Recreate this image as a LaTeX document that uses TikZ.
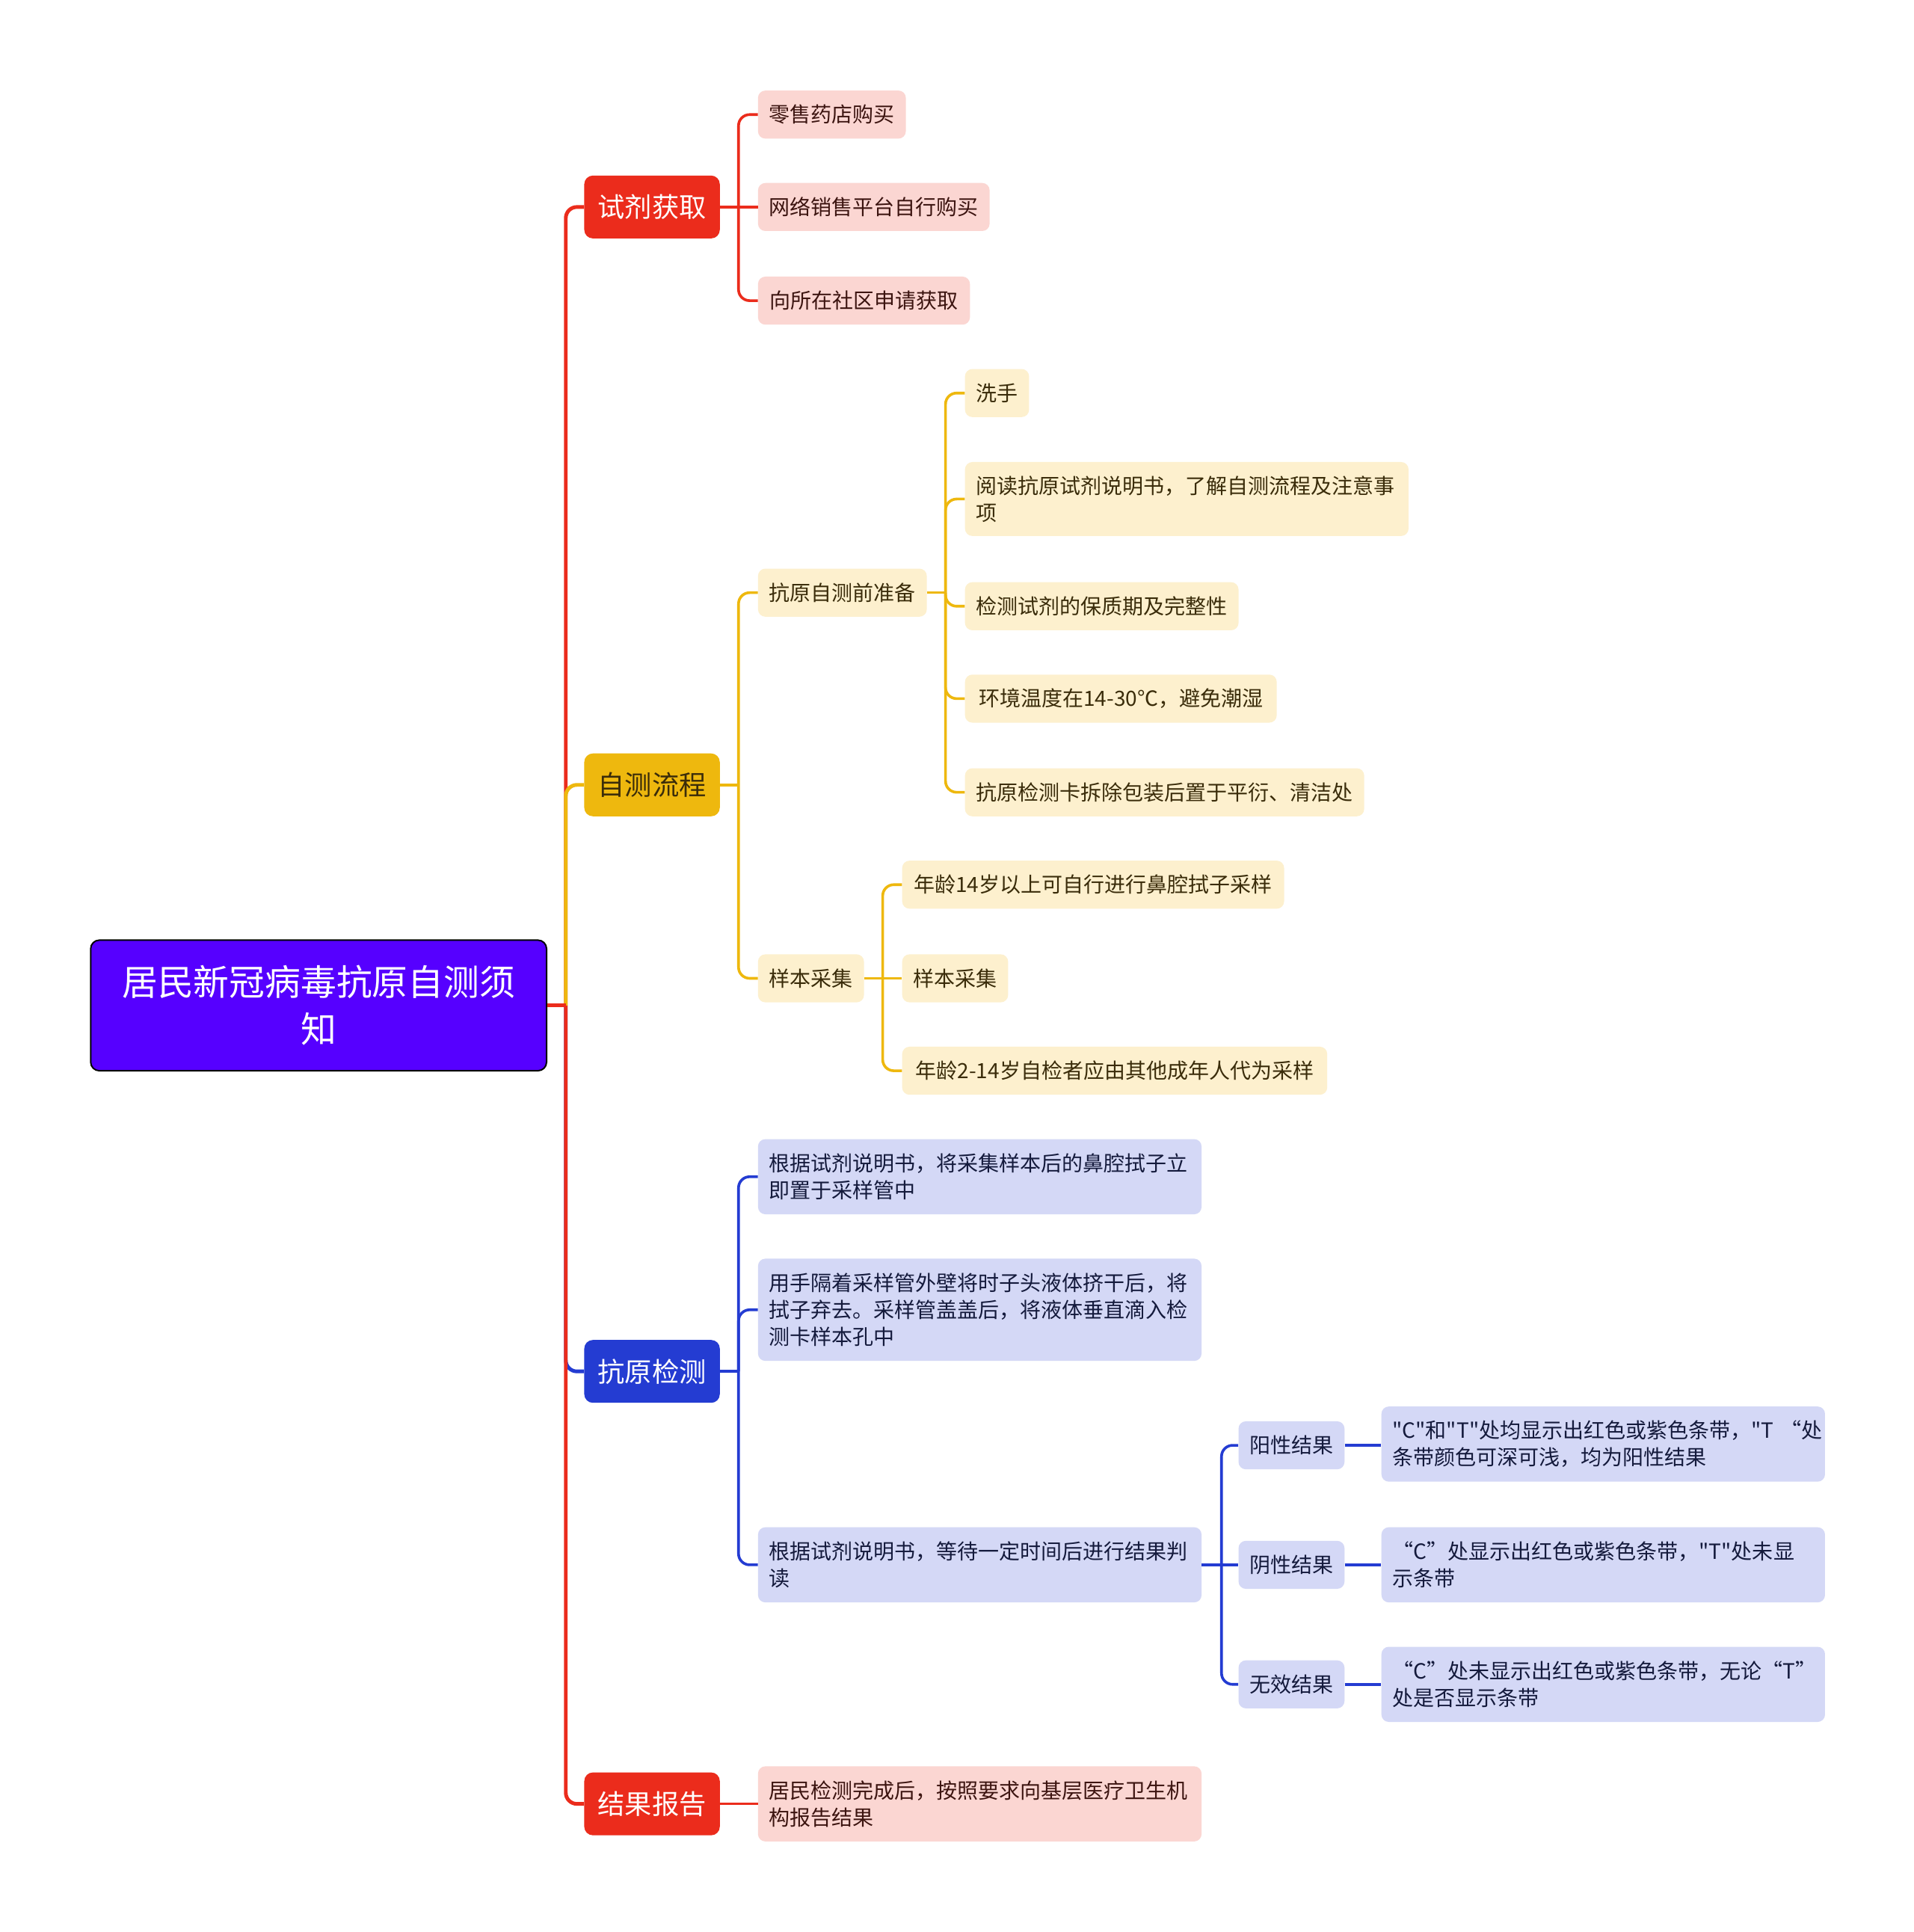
\documentclass[tikz,border=0pt]{standalone}
\usepackage{fontspec}
\newfontfamily\cjk{Noto Sans CJK SC}
\usetikzlibrary{calc}
\definecolor{cred}{RGB}{235,44,28}
\definecolor{cyel}{RGB}{238,184,14}
\definecolor{cblu}{RGB}{36,60,210}
\definecolor{croot}{RGB}{86,0,255}
\definecolor{lred}{RGB}{251,214,210}
\definecolor{lyel}{RGB}{253,240,206}
\definecolor{lblu}{RGB}{212,216,246}
\definecolor{tred}{RGB}{60,20,16}
\definecolor{tyel}{RGB}{58,44,10}
\definecolor{tblu}{RGB}{20,26,60}
\tikzset{
  box/.style={rounded corners=6pt, anchor=west, inner xsep=9pt, inner ysep=0pt, minimum height=39pt, font=\cjk\fontsize{17}{22}\selectfont},
  rootbox/.style={rounded corners=7pt, anchor=west, fill=croot, draw=black, line width=1.2pt, text=white, align=center, inner sep=0pt, font=\cjk\fontsize{29}{38}\selectfont, minimum width=370pt, minimum height=106pt},
  topic/.style={rounded corners=7pt, anchor=west, minimum width=110pt, minimum height=51pt, inner sep=0pt, font=\cjk\fontsize{22}{26}\selectfont},
  pk/.style={box, fill=lred, text=tred},
  yl/.style={box, fill=lyel, text=tyel},
  bl/.style={box, fill=lblu, text=tblu},
  multi/.style={text width=#1, align=left},
  eRedA/.style={draw=cred, line width=3pt},
  eYelA/.style={draw=cyel, line width=3pt},
  eBluA/.style={draw=cblu, line width=3pt},
  eRedB/.style={draw=cred, line width=2.2pt},
  eYelB/.style={draw=cyel, line width=2.2pt},
  eBluB/.style={draw=cblu, line width=2.2pt},
  rc/.style={rounded corners=9pt}
}
\begin{document}
\begin{tikzpicture}[x=1pt,y=-1pt]
\useasboundingbox[fill=white] (0,0) rectangle (1553,1568);

% root
\node[rootbox] (root) at (73,816) {居民新冠病毒抗原自测须\\知};

% level 1
\node[topic, fill=cred, text=white] (n1) at (474,168) {试剂获取};
\node[topic, fill=cyel, text=tyel] (n2) at (474,637) {自测流程};
\node[topic, fill=cblu, text=white] (n3) at (474,1113) {抗原检测};
\node[topic, fill=cred, text=white] (n4) at (474,1464) {结果报告};

% red children
\node[pk, minimum width=120pt] (a1) at (615,93) {零售药店购买};
\node[pk, minimum width=188pt] (a2) at (615,168) {网络销售平台自行购买};
\node[pk, minimum width=172pt] (a3) at (615,244) {向所在社区申请获取};

% yellow children
\node[yl, minimum width=137pt] (b1) at (615,481) {抗原自测前准备};
\node[yl, minimum width=86pt] (b2) at (615,794) {样本采集};

\node[yl, minimum width=52pt] (c1) at (783,319) {洗手};
\node[yl, multi=342pt, minimum height=60pt] (c2) at (783,405) {阅读抗原试剂说明书，了解自测流程及注意事\\项};
\node[yl, minimum width=222pt] (c3) at (783,492) {检测试剂的保质期及完整性};
\node[yl, minimum width=253pt] (c4) at (783,567) {环境温度在14-30℃，避免潮湿};
\node[yl, minimum width=324pt] (c5) at (783,643) {抗原检测卡拆除包装后置于平衍、清洁处};

\node[yl, minimum width=310pt] (d1) at (732,718) {年龄14岁以上可自行进行鼻腔拭子采样};
\node[yl, minimum width=86pt] (d2) at (732,794) {样本采集};
\node[yl, minimum width=345pt] (d3) at (732,869) {年龄2-14岁自检者应由其他成年人代为采样};

% blue children
\node[bl, multi=342pt, minimum height=61pt] (e1) at (615,955) {根据试剂说明书，将采集样本后的鼻腔拭子立\\即置于采样管中};
\node[bl, multi=342pt, minimum height=83pt] (e2) at (615,1063) {用手隔着采样管外壁将时子头液体挤干后，将\\拭子弃去。采样管盖盖后，将液体垂直滴入检\\测卡样本孔中};
\node[bl, multi=342pt, minimum height=61pt] (e3) at (615,1270) {根据试剂说明书，等待一定时间后进行结果判\\读};

\node[bl, minimum width=85pt] (f1) at (1005,1173) {阳性结果};
\node[bl, minimum width=85pt] (f2) at (1005,1270) {阴性结果};
\node[bl, minimum width=85pt] (f3) at (1005,1367) {无效结果};

\node[bl, multi=342pt, minimum height=61pt] (g1) at (1121,1172) {\mbox{"C"和"T"处均显示出红色或紫色条带，"T “处}\\条带颜色可深可浅，均为阳性结果};
\node[bl, multi=342pt, minimum height=61pt] (g2) at (1121,1270) {\mbox{“C”处显示出红色或紫色条带，"T"处未显}\\示条带};
\node[bl, multi=342pt, minimum height=61pt] (g3) at (1121,1367) {\mbox{“C”处未显示出红色或紫色条带，无论“T”}\\处是否显示条带};

% red child of 结果报告
\node[pk, multi=342pt, minimum height=61pt] (h1) at (615,1464) {居民检测完成后，按照要求向基层医疗卫生机\\构报告结果};

% ---------- connectors ----------
\coordinate (rt) at ($(root.east)+(15,0)$);
\draw[eRedA, rc] (rt) |- (n1.west);
\draw[eBluA, rc] (rt) |- (n3.west);
\draw[eRedA, rc] (rt) |- (n4.west);
\draw[eYelA, rc] (rt) |- (n2.west);
\draw[eRedA] (root.east) -- (rt);

% n1
\coordinate (t1) at ($(n1.east)+(15,0)$);
\draw[eRedB, rc] (t1) |- (a1.west);
\draw[eRedB, rc] (t1) |- (a3.west);
\draw[eRedB] (n1.east) -- (a2.west);

% n2
\coordinate (t2) at ($(n2.east)+(15,0)$);
\draw[eYelB, rc] (t2) |- (b1.west);
\draw[eYelB, rc] (t2) |- (b2.west);
\draw[eYelB] (n2.east) -- (t2);

% b1
\coordinate (tb1) at ($(b1.east)+(15,0)$);
\draw[eYelB, rc] (tb1) |- (c1.west);
\draw[eYelB, rc] (tb1) |- (c2.west);
\draw[eYelB, rc] (tb1) |- (c3.west);
\draw[eYelB, rc] (tb1) |- (c4.west);
\draw[eYelB, rc] (tb1) |- (c5.west);
\draw[eYelB] (b1.east) -- (tb1);

% b2
\coordinate (tb2) at ($(b2.east)+(15,0)$);
\draw[eYelB, rc] (tb2) |- (d1.west);
\draw[eYelB, rc] (tb2) |- (d3.west);
\draw[eYelB] (b2.east) -- (d2.west);

% n3
\coordinate (t3) at ($(n3.east)+(15,0)$);
\draw[eBluB, rc] (t3) |- (e1.west);
\draw[eBluB, rc] (t3) |- (e2.west);
\draw[eBluB, rc] (t3) |- (e3.west);
\draw[eBluB] (n3.east) -- (t3);

% e3
\coordinate (te3) at ($(e3.east)+(16,0)$);
\draw[eBluB, rc] (te3) |- (f1.west);
\draw[eBluB, rc] (te3) |- (f3.west);
\draw[eBluB] (e3.east) -- (f2.west);

% f -> g
\draw[eBluB] (f1.east) -- (f1.east -| g1.west);
\draw[eBluB] (f2.east) -- (g2.west);
\draw[eBluB] (f3.east) -- (g3.west);

% n4
\draw[eRedB] (n4.east) -- (h1.west);
\end{tikzpicture}
\end{document}
